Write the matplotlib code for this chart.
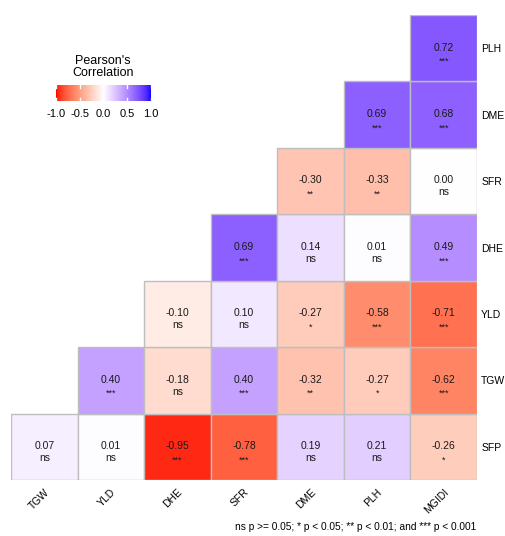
import numpy as np
import matplotlib as mpl
mpl.use("Agg")
import matplotlib.pyplot as plt
from matplotlib.colors import ListedColormap
from matplotlib.patches import Rectangle

plt.rcParams['font.family'] = ['Liberation Sans', 'DejaVu Sans']

# columns (left to right) and rows (bottom to top)
cols = ["TGW", "YLD", "DHE", "SFR", "DME", "PLH", "MGIDI"]
rows = ["SFP", "TGW", "YLD", "DHE", "SFR", "DME", "PLH"]

# each row lists its values for the rightmost columns
r_sfp = [0.07, 0.01, -0.95, -0.78, 0.19, 0.21, -0.26]
r_tgw = [0.40, -0.18, 0.40, -0.32, -0.27, -0.62]
r_yld = [-0.10, 0.10, -0.27, -0.58, -0.71]
r_dhe = [0.69, 0.14, 0.01, 0.49]
r_sfr = [-0.30, -0.33, 0.00]
r_dme = [0.69, 0.68]
r_plh = [0.72]

s_sfp = ["ns", "ns", "***", "***", "ns", "ns", "*"]
s_tgw = ["***", "ns", "***", "**", "*", "***"]
s_yld = ["ns", "ns", "*", "***", "***"]
s_dhe = ["***", "ns", "ns", "***"]
s_sfr = ["**", "**", "ns"]
s_dme = ["***", "***"]
s_plh = ["***"]

vals = [r_sfp, r_tgw, r_yld, r_dhe, r_sfr, r_dme, r_plh]
stars = [s_sfp, s_tgw, s_yld, s_dhe, s_sfr, s_dme, s_plh]


# red - white - blue gradient interpolated in CIELAB (like ggplot)
def srgb_to_lab(c):
    c = np.asarray(c, float)
    lin = np.where(c <= 0.04045, c / 12.92, ((c + 0.055) / 1.055) ** 2.4)
    M = np.array([[0.4124, 0.3576, 0.1805],
                  [0.2126, 0.7152, 0.0722],
                  [0.0193, 0.1192, 0.9505]])
    xyz = M @ lin / np.array([0.95047, 1.0, 1.08883])
    f = np.where(xyz > 0.008856, np.cbrt(xyz), 7.787 * xyz + 16 / 116)
    return np.array([116 * f[1] - 16, 500 * (f[0] - f[1]), 200 * (f[1] - f[2])])


def lab_to_srgb(lab):
    L, a, b = lab
    fy = (L + 16) / 116
    fx = fy + a / 500
    fz = fy - b / 200
    f = np.array([fx, fy, fz])
    xyz = np.where(f ** 3 > 0.008856, f ** 3, (f - 16 / 116) / 7.787)
    xyz = xyz * np.array([0.95047, 1.0, 1.08883])
    Mi = np.array([[3.2406, -1.5372, -0.4986],
                   [-0.9689, 1.8758, 0.0415],
                   [0.0557, -0.2040, 1.0570]])
    lin = Mi @ xyz
    c = np.where(lin <= 0.0031308, 12.92 * lin, 1.055 * np.clip(lin, 0, None) ** (1 / 2.4) - 0.055)
    return np.clip(c, 0, 1)


lo, mid, hi = srgb_to_lab([1, 0, 0]), srgb_to_lab([1, 1, 1]), srgb_to_lab([0, 0, 1])
colors = []
for t in np.linspace(-1, 1, 256):
    if t < 0:
        lab = mid + (lo - mid) * (-t)
    else:
        lab = mid + (hi - mid) * t
    colors.append(lab_to_srgb(lab))
cmap = ListedColormap(colors)
norm = mpl.colors.Normalize(-1, 1)

n = len(cols)

W, H = 506, 536
fig = plt.figure(figsize=(W / 100, H / 100), dpi=100)
ax = fig.add_axes([11 / W, (H - 480) / H, 466 / W, 465 / H])
for i, rv in enumerate(vals):
    for k, v in enumerate(rv):
        j = n - len(rv) + k
        ax.add_patch(Rectangle((j, i), 1, 1, facecolor=cmap(norm(v)),
                               edgecolor="#BEBEBE", linewidth=1))
        st = stars[i][k]
        ax.text(j + 0.5, i + 0.51, f"{v:.2f}", ha="center", va="center",
                fontsize=7.5, color="#1a1a1a")
        ax.text(j + 0.5, i + 0.33 if st == "ns" else 0.30 + i, st, ha="center", va="center",
                fontsize=7.5 if st == "ns" else 6.5, color="#1a1a1a")
ax.set_xlim(0, n)
ax.set_ylim(0, n)
for s in ax.spines.values():
    s.set_visible(False)
ax.set_xticks(np.arange(n) + 0.5)
ax.set_xticklabels(cols, rotation=45, ha="right", va="top", rotation_mode="anchor", fontsize=7.5)
ax.set_yticks(np.arange(n) + 0.5)
ax.set_yticklabels(rows, fontsize=7.5)
ax.yaxis.tick_right()
ax.tick_params(length=0, pad=3)
ax.tick_params(axis="x", pad=5)

# legend colorbar
cax = fig.add_axes([55 / W, (H - 101) / H, 97 / W, 16 / H])
grad = np.linspace(-1, 1, 256).reshape(1, -1)
cax.imshow(grad, cmap=cmap, aspect="auto", extent=[-1, 1, 0, 1], vmin=-1, vmax=1)
for tv in [-1, -0.5, 0, 0.5, 1]:
    cax.plot([tv, tv], [0, 0.2], color="white", lw=1)
    cax.plot([tv, tv], [0.8, 1], color="white", lw=1)
cax.set_xlim(-1.03, 1.03)
cax.set_ylim(0, 1)
cax.set_yticks([])
cax.set_xticks([-1, -0.5, 0, 0.5, 1])
cax.set_xticklabels(["-1.0", "-0.5", "0.0", "0.5", "1.0"], fontsize=8)
cax.tick_params(length=0, pad=6)
for s in cax.spines.values():
    s.set_visible(False)
fig.text(103 / W, 1 - 67 / H, "Pearson's\nCorrelation", ha="center", va="center",
         fontsize=9, linespacing=1.05)

fig.text(476 / W, 1 - 527 / H, "ns p >= 0.05; * p < 0.05; ** p < 0.01; and *** p < 0.001",
         ha="right", va="center", fontsize=7.3)

fig.savefig("out.png", dpi=100)
